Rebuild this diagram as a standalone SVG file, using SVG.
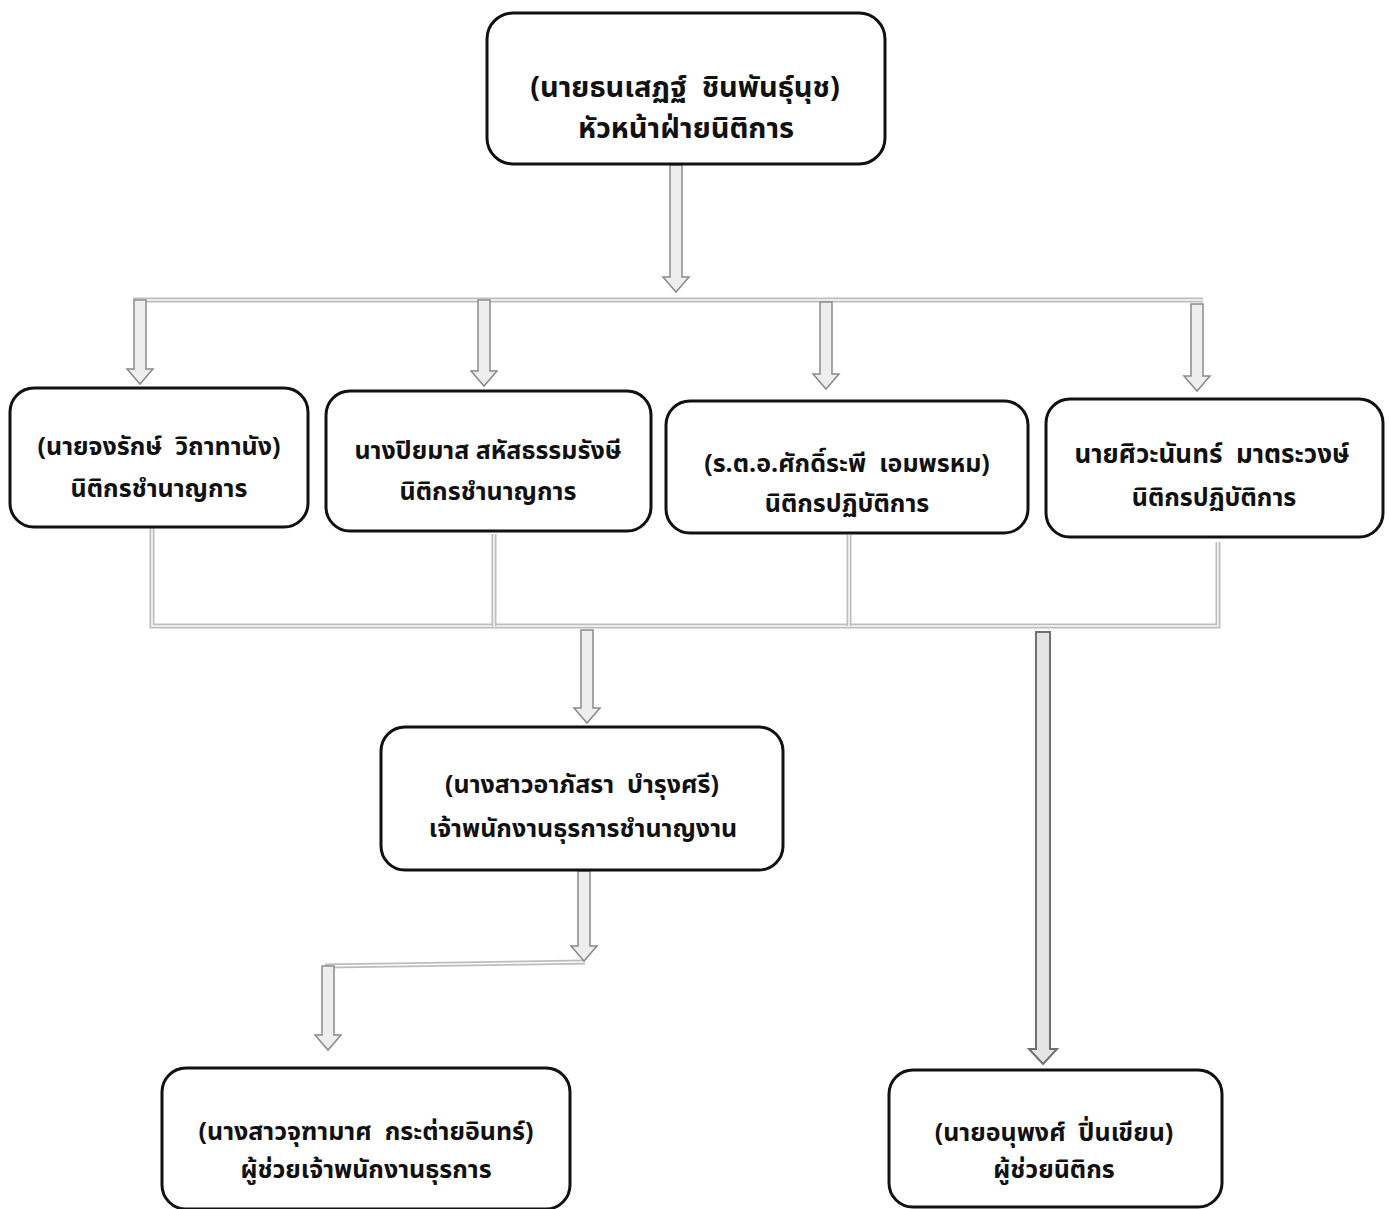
<svg xmlns="http://www.w3.org/2000/svg" width="1389" height="1209" viewBox="0 0 1389 1209">
<style>
.box{fill:#fff;stroke:#111;stroke-width:3}
.t{font-family:"Noto Sans Thai","Noto Sans","DejaVu Sans",sans-serif;font-size:25px;font-weight:bold;fill:#111;text-anchor:middle;white-space:pre}
.big{font-size:29px}
.busO{fill:none;stroke:#bdbdbd;stroke-width:5}
.busI{fill:none;stroke:#fafafa;stroke-width:1.5}
.arr{fill:#eeeeee;stroke:#8a8a8a;stroke-width:1.5}
.arrD{fill:#e4e4e4;stroke:#707070;stroke-width:2}
</style>
<rect width="1389" height="1209" fill="#fff"/>
<g id="connectors">
<polyline class="busO" points="133,300 1203,300"/>
<polyline class="busI" points="133,300 1203,300"/>
<polyline class="busO" points="152,528 152,626 1218,626 1218,542"/>
<polyline class="busI" points="152,528 152,626 1218,626 1218,542"/>
<polyline class="busO" points="494,534 494,626"/>
<polyline class="busI" points="494,534 494,626"/>
<polyline class="busO" points="849,535 849,626"/>
<polyline class="busI" points="849,535 849,626"/>
<polyline class="busO" points="585,962 325,966"/>
<polyline class="busI" points="585,962 325,966"/>
<polygon class="arr" points="670,165 682,165 682,277 689,277 676,292 663,277 670,277"/>
<polygon class="arr" points="134,300 146,300 146,369 153,369 140,384 127,369 134,369"/>
<polygon class="arr" points="478,300 490,300 490,371 497,371 484,386 471,371 478,371"/>
<polygon class="arr" points="820,302 832,302 832,374 839,374 826,389 813,374 820,374"/>
<polygon class="arr" points="1191,304 1203,304 1203,376 1210,376 1197,391 1184,376 1191,376"/>
<polygon class="arr" points="581,630 593,630 593,708 600,708 587,723 574,708 581,708"/>
<polygon class="arrD" points="1036,632 1050,632 1050,1049 1057,1049 1043,1064 1029,1049 1036,1049"/>
<polygon class="arr" points="578,871 590,871 590,946 597,946 584,961 571,946 578,946"/>
<polygon class="arr" points="322,966 334,966 334,1035 341,1035 328,1050 315,1035 322,1035"/>
</g>
<g id="n-head">
<rect class="box" x="487" y="13" width="398" height="151" rx="26"/>
<text class="t big" x="685" y="97">(นายธนเสฏฐ์  ชินพันธุ์นุช)</text>
<text class="t big" x="686" y="138">หัวหน้าฝ่ายนิติการ</text>
</g>
<g id="n-1">
<rect class="box" x="10" y="388" width="298" height="139" rx="24"/>
<text class="t" x="159" y="455">(นายจงรักษ์  วิถาทานัง)</text>
<text class="t" x="159" y="497">นิติกรชำนาญการ</text>
</g>
<g id="n-2">
<rect class="box" x="326" y="391" width="325" height="140" rx="24"/>
<text class="t" x="488" y="459">นางปิยมาส สหัสธรรมรังษี</text>
<text class="t" x="488" y="500">นิติกรชำนาญการ</text>
</g>
<g id="n-3">
<rect class="box" x="666" y="401" width="362" height="132" rx="24"/>
<text class="t" x="847" y="472">(ร.ต.อ.ศักดิ์ระพี  เอมพรหม)</text>
<text class="t" x="847" y="512">นิติกรปฏิบัติการ</text>
</g>
<g id="n-4">
<rect class="box" x="1046" y="399" width="337" height="138" rx="24"/>
<text class="t" x="1212" y="463" style="font-size:26px">นายศิวะนันทร์  มาตระวงษ์</text>
<text class="t" x="1214" y="506">นิติกรปฏิบัติการ</text>
</g>
<g id="n-mid">
<rect class="box" x="381" y="727" width="402" height="143" rx="24"/>
<text class="t" x="582" y="793">(นางสาวอาภัสรา  บำรุงศรี)</text>
<text class="t" x="583" y="837">เจ้าพนักงานธุรการชำนาญงาน</text>
</g>
<g id="n-bl">
<rect class="box" x="162" y="1068" width="408" height="141" rx="24"/>
<text class="t" x="366" y="1140">(นางสาวจุฑามาศ  กระต่ายอินทร์)</text>
<text class="t" x="366" y="1178">ผู้ช่วยเจ้าพนักงานธุรการ</text>
</g>
<g id="n-br">
<rect class="box" x="889" y="1070" width="333" height="137" rx="24"/>
<text class="t" x="1054" y="1141">(นายอนุพงศ์  ปิ่นเขียน)</text>
<text class="t" x="1054" y="1178">ผู้ช่วยนิติกร</text>
</g>
</svg>
